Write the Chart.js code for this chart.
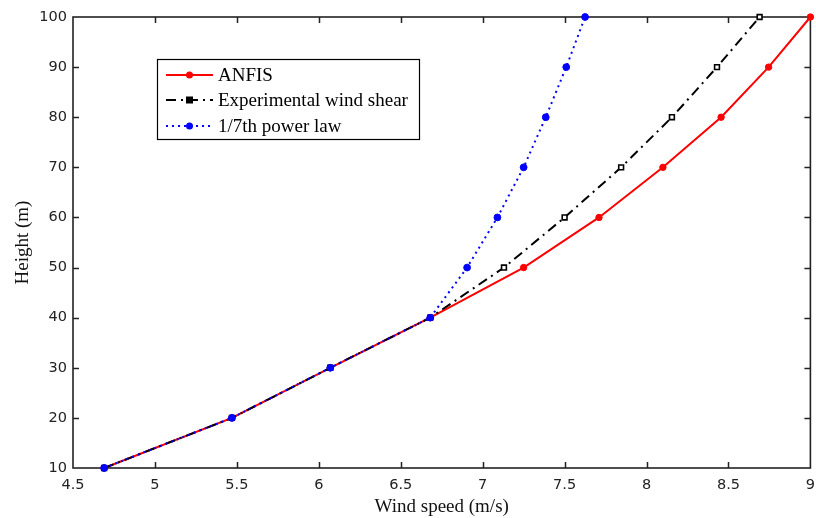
<!DOCTYPE html>
<html>
<head>
<meta charset="utf-8">
<script src="https://cdn.jsdelivr.net/npm/chart.js@4/dist/chart.umd.min.js"></script>
<style>
  html, body { margin: 0; padding: 0; background: #fff; }
  #wrap { width: 816px; height: 518px; }
</style>
</head>
<body>
<div id="wrap"><canvas id="windChart" width="816" height="518"></canvas></div>
<script>
// --------------------------------------
// Data
// --------------------------------------
const heights = [10, 20, 30, 40, 50, 60, 70, 80, 90, 100];
const anfisSpeed = [4.69, 5.47, 6.07, 6.68, 7.25, 7.71, 8.10, 8.455, 8.745, 9.0];
const expShearSpeed = [4.69, 5.47, 6.07, 6.68, 7.13, 7.50, 7.845, 8.155, 8.43, 8.69];
const powerLawSpeed = [4.69, 5.47, 6.07, 6.68, 6.905, 7.09, 7.25, 7.385, 7.51, 7.625];

const seriesLabels = ['ANFIS', 'Experimental wind shear', '1/7th power law'];
const xTickValues = [4.5, 5, 5.5, 6, 6.5, 7, 7.5, 8, 8.5, 9];
const yTickValues = [10, 20, 30, 40, 50, 60, 70, 80, 90, 100];

const TICK_FONT = { family: '"DejaVu Sans", Verdana, sans-serif', size: 14.5 };
const SERIF = '"Liberation Serif", "Times New Roman", serif';

function toPoints(xs) {
    return xs.map((x, i) => ({ x: x, y: heights[i] }));
}

// --------------------------------------
// Plugins: MATLAB-style box with inward ticks, and the legend box
// --------------------------------------
const boxPlugin = {
    id: 'matlabBox',
    beforeDatasetsDraw(chart) {
        const { ctx, chartArea: a, scales } = chart;
        const len = 6;
        ctx.save();
        ctx.strokeStyle = '#222';
        ctx.lineWidth = 1.5;
        ctx.beginPath();
        scales.x.ticks.forEach(t => {
            const px = Math.round(scales.x.getPixelForValue(t.value)) + 0.5;
            if (px <= a.left + 1 || px >= a.right - 1) return;
            ctx.moveTo(px, a.bottom); ctx.lineTo(px, a.bottom - len);
            ctx.moveTo(px, a.top); ctx.lineTo(px, a.top + len);
        });
        scales.y.ticks.forEach(t => {
            const py = Math.round(scales.y.getPixelForValue(t.value)) + 0.5;
            if (py <= a.top + 1 || py >= a.bottom - 1) return;
            ctx.moveTo(a.left, py); ctx.lineTo(a.left + len, py);
            ctx.moveTo(a.right, py); ctx.lineTo(a.right - len, py);
        });
        ctx.stroke();
        ctx.lineWidth = 1.6;
        ctx.strokeRect(a.left, a.top, a.right - a.left, a.bottom - a.top);
        ctx.restore();
    }
};

const legendPlugin = {
    id: 'boxLegend',
    afterDraw(chart) {
        const ctx = chart.ctx;
        const left = 157, top = 59, w = 262, h = 80;
        const rows = [75, 100, 126];
        ctx.save();
        ctx.fillStyle = '#fff';
        ctx.fillRect(left, top, w, h);
        ctx.strokeStyle = '#000';
        ctx.lineWidth = 1.2;
        ctx.strokeRect(left + 0.5, top + 0.5, w, h);
        chart.data.datasets.forEach((ds, i) => {
            const y = rows[i];
            ctx.strokeStyle = ds.borderColor;
            ctx.lineWidth = ds.borderWidth;
            ctx.setLineDash(ds.borderDash || []);
            ctx.beginPath();
            ctx.moveTo(166, y); ctx.lineTo(213, y);
            ctx.stroke();
            ctx.setLineDash([]);
            ctx.fillStyle = ds.borderColor;
            if (ds.pointStyle === 'rect') {
                ctx.fillRect(186, y - 3.5, 7, 7);
            } else {
                ctx.beginPath();
                ctx.arc(189.5, y, 3.5, 0, Math.PI * 2);
                ctx.fill();
            }
            ctx.fillStyle = '#000';
            ctx.font = '19px ' + SERIF;
            ctx.textBaseline = 'middle';
            ctx.fillText(ds.label, 218, y + 1);
        });
        ctx.restore();
    }
};

// --------------------------------------
// Chart
// --------------------------------------
const ctx = document.getElementById('windChart').getContext('2d');
new Chart(ctx, {
    type: 'scatter',
    data: {
        datasets: [
            { label: seriesLabels[0], data: toPoints(anfisSpeed), showLine: true, order: 3, clip: false,
              borderColor: '#ff0000', backgroundColor: '#ff0000', borderWidth: 2,
              pointStyle: 'circle', pointRadius: 3.2, pointBorderWidth: 1 },
            { label: seriesLabels[1], data: toPoints(expShearSpeed), showLine: true, order: 2, clip: false,
              borderColor: '#000000', backgroundColor: '#ffffff', borderWidth: 2, borderDash: [10, 5, 2, 5],
              pointStyle: 'rect', pointRadius: 3.4, pointBorderWidth: 1.6 },
            { label: seriesLabels[2], data: toPoints(powerLawSpeed), showLine: true, order: 1, clip: false,
              borderColor: '#0000ff', backgroundColor: '#0000ff', borderWidth: 2, borderDash: [2, 4],
              pointStyle: 'circle', pointRadius: 3.4, pointBorderWidth: 1 }
        ]
    },
    options: {
        responsive: false,
        animation: false,
        layout: { padding: { top: 17, right: 5, left: 0, bottom: 0 } },
        plugins: { legend: { display: false }, tooltip: { enabled: false } },
        elements: { line: { tension: 0 } },
        scales: {
            x: {
                type: 'linear', min: 4.5, max: 9,
                afterBuildTicks: s => { s.ticks = xTickValues.map(v => ({ value: v })); },
                afterFit: s => { s.height = 50; s.paddingRight = 0; s.paddingLeft = 0; },
                grid: { display: false, drawTicks: false },
                border: { display: false },
                ticks: { color: '#222', font: TICK_FONT, padding: 9, maxRotation: 0, autoSkip: false,
                         callback: v => String(v) },
                title: { display: true, text: 'Wind speed (m/s)', color: '#111',
                         font: { family: SERIF, size: 19 }, padding: { top: 5, bottom: 0 } }
            },
            y: {
                type: 'linear', min: 10, max: 100,
                afterBuildTicks: s => { s.ticks = yTickValues.map(v => ({ value: v })); },
                afterFit: s => { s.width = 73; s.paddingTop = 0; s.paddingBottom = 0; },
                grid: { display: false, drawTicks: false },
                border: { display: false },
                ticks: { color: '#222', font: TICK_FONT, padding: 6, autoSkip: false,
                         callback: v => String(v) },
                title: { display: true, text: 'Height (m)', color: '#111',
                         font: { family: SERIF, size: 19 }, padding: { top: 12, bottom: 0 } }
            }
        }
    },
    plugins: [boxPlugin, legendPlugin]
});
</script>
</body>
</html>
